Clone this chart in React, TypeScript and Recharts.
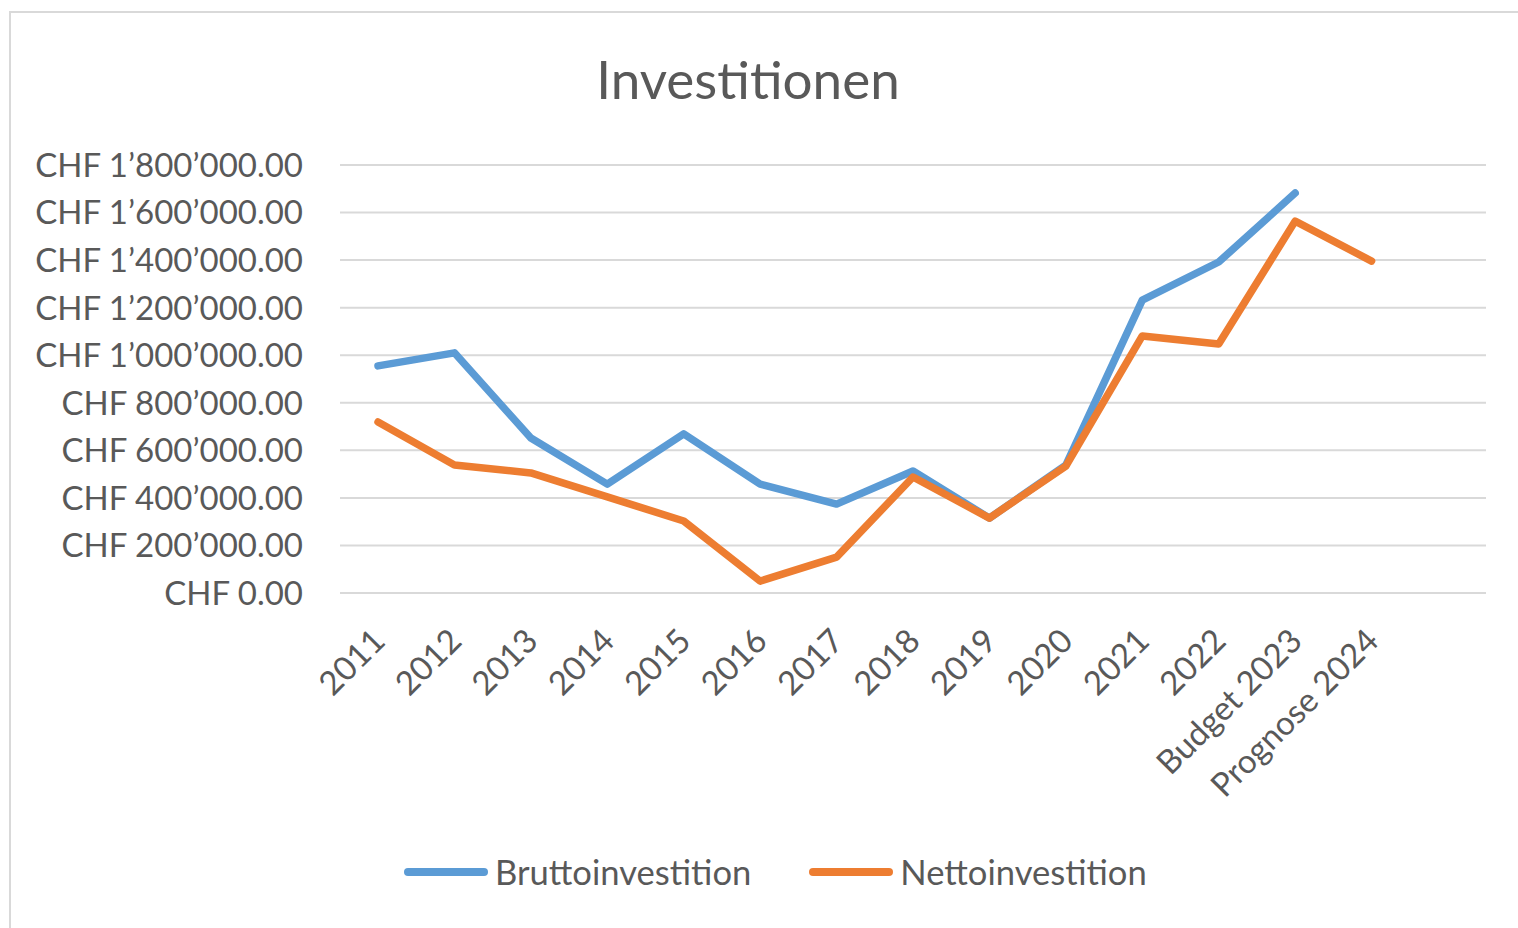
import { CartesianGrid, Line, LineChart, XAxis, YAxis } from 'recharts';

const categories = ['2011', '2012', '2013', '2014', '2015', '2016', '2017', '2018', '2019', '2020', '2021', '2022', 'Budget 2023', 'Prognose 2024', ''];
const brutto = [955000, 1010000, 652000, 458000, 669000, 458000, 374000, 513000, 315000, 538000, 1232000, 1392000, 1682000, null, null];
const netto = [719000, 538000, 505000, 404000, 303000, 50000, 151000, 488000, 315000, 534000, 1081000, 1047000, 1564000, 1396000, null];
const yTicks = [0, 200000, 400000, 600000, 800000, 1000000, 1200000, 1400000, 1600000, 1800000];

const data = categories.map((year, i) => ({ year, brutto: brutto[i], netto: netto[i] }));

const FONT = 'Lato, "Open Sans", sans-serif';
const TEXT = '#595959';
const BLUE = '#5B9BD5';
const ORANGE = '#ED7D31';

const formatChf = (value: number) => {
  const grouped = Math.round(value).toString().replace(/\B(?=(\d{3})+(?!\d))/g, '\u2019');
  return `CHF ${grouped}.00`;
};

type TickProps = { x?: number; y?: number; payload?: { value: string | number } };

function YTick({ y, payload }: TickProps) {
  return (
    <text x={303} y={y} dy="0.36em" textAnchor="end" fill={TEXT} fontSize={33} fontFamily={FONT}>
      {formatChf(Number(payload?.value))}
    </text>
  );
}

function XTick({ x = 0, y = 0, payload }: TickProps) {
  const tx = x + 9;
  const ty = y + 42;
  return (
    <text x={tx} y={ty} textAnchor="end" fill={TEXT} fontSize={33} fontFamily={FONT} transform={`rotate(-45 ${tx} ${ty})`}>
      {payload?.value}
    </text>
  );
}

function LegendItem({ color, label }: { color: string; label: string }) {
  return (
    <div style={{ display: 'flex', alignItems: 'center' }}>
      <div style={{ width: 84, height: 8, borderRadius: 4, background: color, marginRight: 7 }} />
      <span style={{ fontSize: 34.6, color: TEXT, fontFamily: FONT }}>{label}</span>
    </div>
  );
}

export default function App() {
  return (
    <div style={{ position: 'fixed', left: 0, top: 0, width: 1518, height: 928, overflow: 'hidden', background: '#fff' }}>
      <div style={{ position: 'absolute', left: 9, top: 11, width: 1540, height: 960, border: '2px solid #D9D9D9' }} />
      <div style={{ position: 'absolute', left: 0, width: 1496, top: 47, textAlign: 'center', fontSize: 53, color: TEXT, fontFamily: FONT }}>
        Investitionen
      </div>
      <div style={{ position: 'absolute', left: 0, top: 0 }}>
        <LineChart width={1518} height={928} data={data} margin={{ top: 165, right: 32, bottom: 135, left: 0 }}>
          <CartesianGrid horizontal vertical={false} stroke="#D9D9D9" strokeWidth={2} />
          <XAxis dataKey="year" interval={0} tickLine={false} axisLine={false} height={200} padding={{ left: 38, right: 38 }} tick={<XTick />} />
          <YAxis width={340} domain={[0, 1800000]} ticks={yTicks} tickLine={false} axisLine={false} tick={<YTick />} />
          <Line type="linear" dataKey="brutto" name="Bruttoinvestition" stroke={BLUE} strokeWidth={7.5} strokeLinecap="round" strokeLinejoin="round" dot={false} isAnimationActive={false} />
          <Line type="linear" dataKey="netto" name="Nettoinvestition" stroke={ORANGE} strokeWidth={7.5} strokeLinecap="round" strokeLinejoin="round" dot={false} isAnimationActive={false} />
        </LineChart>
      </div>
      <div style={{ position: 'absolute', left: 404, top: 851, display: 'flex', gap: 58 }}>
        <LegendItem color={BLUE} label="Bruttoinvestition" />
        <LegendItem color={ORANGE} label="Nettoinvestition" />
      </div>
    </div>
  );
}
